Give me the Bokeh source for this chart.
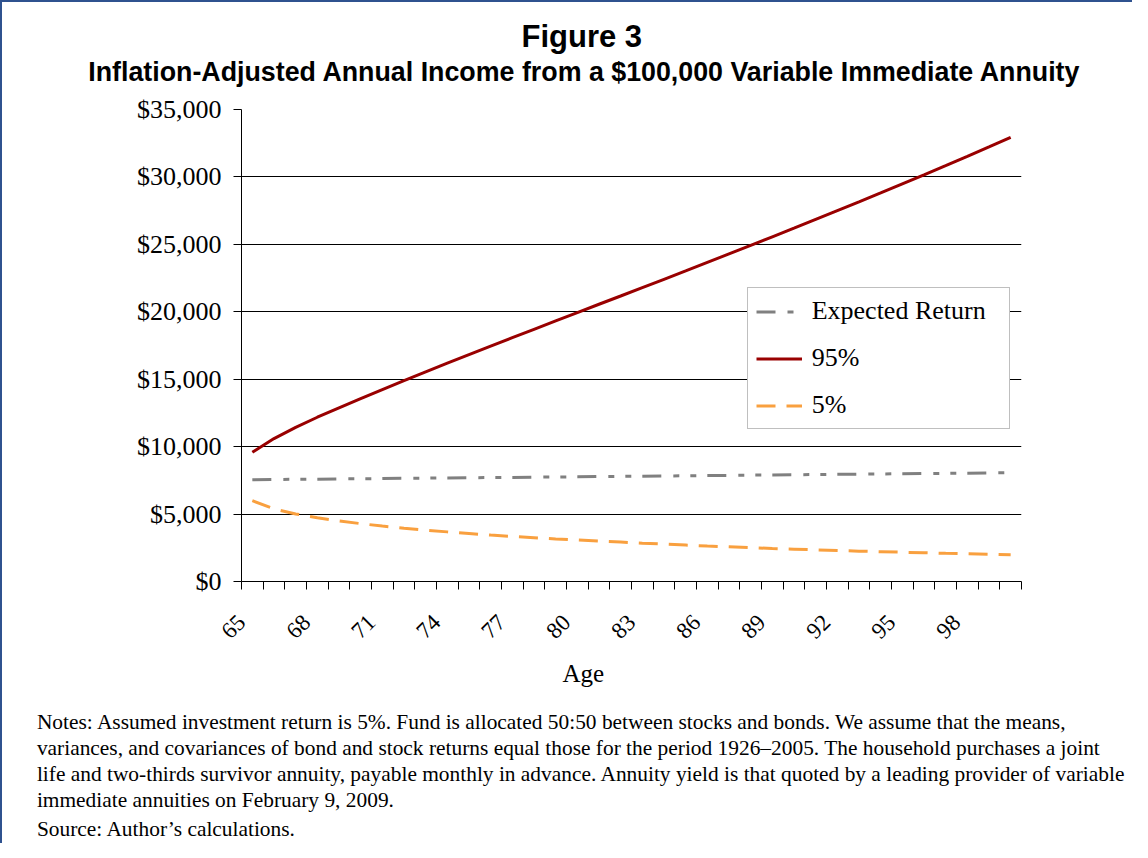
import math
from bokeh.plotting import figure
from bokeh.models import (Range1d, FixedTicker, SingleIntervalTicker, NumeralTickFormatter,
                          Legend, LegendItem, Title)
from bokeh.embed import file_html
from bokeh.resources import INLINE

# ---------------- data ----------------
ages = list(range(65, 101))

expected_return = [7550, 7565, 7580, 7590, 7605, 7620, 7635, 7650, 7665, 7680,
                   7695, 7710, 7720, 7735, 7750, 7765, 7780, 7795, 7810, 7825,
                   7840, 7855, 7870, 7885, 7900, 7915, 7930, 7945, 7960, 7975,
                   7990, 8005, 8020, 8035, 8050, 8070]

pct95 = [9580, 10600, 11430, 12180, 12880, 13560, 14230, 14900, 15550, 16190,
         16820, 17450, 18080, 18700, 19320, 19940, 20560, 21170, 21790, 22410,
         23030, 23660, 24290, 24920, 25560, 26200, 26850, 27500, 28150, 28810,
         29480, 30150, 30830, 31520, 32220, 32930]

pct5 = [5990, 5380, 5010, 4720, 4490, 4290, 4110, 3950, 3810, 3680,
        3560, 3440, 3340, 3250, 3160, 3075, 2995, 2920, 2840, 2770,
        2700, 2630, 2570, 2510, 2450, 2400, 2350, 2300, 2250, 2210,
        2170, 2130, 2090, 2055, 2020, 1985]

series_names = ["Expected Return", "95%", "5%"]
x_tick_labels = ["65", "68", "71", "74", "77", "80", "83", "86", "89", "92", "95", "98"]
y_max = 35000
y_step = 5000

title_text = "Figure 3"
subtitle_text = "Inflation-Adjusted Annual Income from a $100,000 Variable Immediate Annuity"
x_label = "Age"
notes_lines = [
    "Notes: Assumed investment return is 5%. Fund is allocated 50:50 between stocks and bonds. We assume that the means,",
    "variances, and covariances of bond and stock returns equal those for the period 1926\u20132005. The household purchases a joint",
    "life and two-thirds survivor annuity, payable monthly in advance. Annuity yield is that quoted by a leading provider of variable",
    "immediate annuities on February 9, 2009.",
]
source_line = "Source: Author\u2019s calculations."

SERIF = "Liberation Serif"
SANS = "Liberation Sans"

# ---------------- figure ----------------
p = figure(frame_width=780, frame_height=472,
           min_border_left=233, min_border_top=100,
           min_border_right=111, min_border_bottom=262,
           x_range=Range1d(ages[0] - 0.5, ages[-1] + 0.5),
           y_range=Range1d(0, y_max), title=None,
           output_backend="svg", toolbar_location=None)
p.styles = {"border-left": "2px solid #2F528F", "border-top": "2px solid #2F528F",
            "padding-left": "6px", "padding-top": "7px"}
p.outline_line_color = None
p.background_fill_color = "white"
p.border_fill_color = "white"

r_exp = p.line(ages, expected_return, line_color="#808080", line_width=3,
               line_dash="19 12 6 11 6 11")
r_95 = p.line(ages, pct95, line_color="#990000", line_width=3)
r_5 = p.line(ages, pct5, line_color="#F9A03F", line_width=3, line_dash="19 11")

# grid
p.xgrid.grid_line_color = None
p.ygrid.grid_line_color = "black"
p.ygrid.grid_line_width = 1

# y axis
p.yaxis.ticker = SingleIntervalTicker(interval=y_step)
p.yaxis.formatter = NumeralTickFormatter(format="$0,0")
p.yaxis.major_label_text_font = SERIF
p.yaxis.major_label_text_font_size = "26px"
p.yaxis.major_label_text_color = "black"
p.yaxis.major_tick_out = 8
p.yaxis.major_tick_in = 0
p.yaxis.minor_tick_line_color = None
p.yaxis.major_label_standoff = 12
p.yaxis.axis_line_color = "black"
p.yaxis.major_tick_line_color = "black"

# x axis: ticks at category edges, labels every third age
x_edges = [a - 0.5 for a in ages] + [ages[-1] + 0.5]
overrides = {t: "" for t in x_edges}
for lab in x_tick_labels:
    overrides[int(lab) - 0.5] = lab
p.xaxis.ticker = FixedTicker(ticks=x_edges)
p.xaxis.major_label_overrides = overrides
p.xaxis.major_label_orientation = math.pi / 4
p.xaxis.major_label_text_font = SERIF
p.xaxis.major_label_text_font_size = "23px"
p.xaxis.major_label_text_color = "black"
p.xaxis.major_tick_out = 8
p.xaxis.major_tick_in = 0
p.xaxis.minor_tick_line_color = None
p.xaxis.major_label_standoff = 29
p.xaxis.axis_line_color = "black"
p.xaxis.major_tick_line_color = "black"

# legend
legend = Legend(items=[LegendItem(label=series_names[0], renderers=[r_exp]),
                       LegendItem(label=series_names[1], renderers=[r_95]),
                       LegendItem(label=series_names[2], renderers=[r_5])],
                location=(505.7, 152), margin=0, padding=8, spacing=17,
                glyph_width=46, glyph_height=29, label_height=29, label_width=189,
                label_standoff=10, label_text_font=SERIF, label_text_font_size="26px",
                label_text_color="black", border_line_color="#808080",
                border_line_width=1.5, background_fill_color="white",
                background_fill_alpha=1)
p.add_layout(legend)


def spacer(gap):
    return Title(text=" ", text_font_size="1px", standoff=gap, vertical_align="top")


def text_title(text, font, size, offset, standoff, valign, bold=False):
    return Title(text=text, align="left", offset=offset, standoff=standoff,
                 vertical_align=valign, text_font=font, text_font_size=size,
                 text_font_style="bold" if bold else "normal", text_color="black")


# above (stacked outward from the frame)
p.add_layout(spacer(20), "above")
p.add_layout(text_title(subtitle_text, SANS, "26.8px", -153.3, 0, "bottom", True), "above")
p.add_layout(text_title(title_text, SANS, "31px", 280, 0.5, "bottom", True), "above")

# below (stacked outward from the x axis)
p.add_layout(text_title(x_label, SERIF, "25px", 321, 22, "top"), "below")
p.add_layout(spacer(7.3), "below")
for line in notes_lines:
    p.add_layout(text_title(line, SERIF, "21.4px", -204.6, 0.4, "top"), "below")
p.add_layout(spacer(0), "below")
p.add_layout(text_title(source_line, SERIF, "21.4px", -204.6, 0, "top"), "below")

open("out.html", "w").write(file_html(p, INLINE))
